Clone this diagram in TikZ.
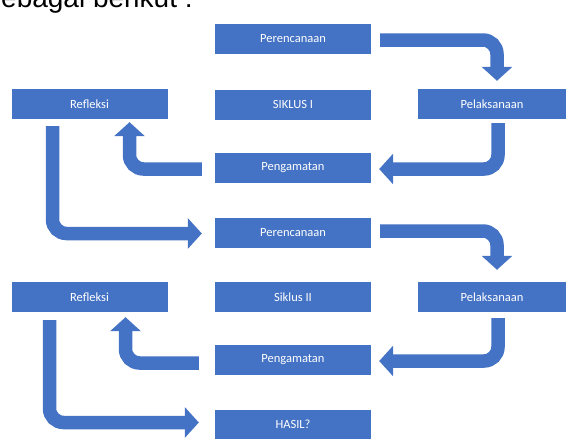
\documentclass[tikz,border=0pt]{standalone}
\usepackage{fontspec}
\setmainfont{Carlito}
\newfontfamily\headfont{Liberation Sans}
\usetikzlibrary{calc,arrows.meta}
\definecolor{obl}{HTML}{4472C4}
\tikzset{
  boxnode/.style={rectangle, fill=obl, draw=none, text=white, minimum width=156pt, minimum height=30pt, inner sep=0pt, font=\fontsize{12.5}{14}\selectfont},
  flow/.style={draw=obl, line width=13.5pt, rounded corners=14pt, -{Triangle[width=30pt,length=14pt]}}
}
\begin{document}
\begin{tikzpicture}[x=1pt,y=-1pt]
\useasboundingbox (0,0) rectangle (566,439);
\node[anchor=base west, inner sep=0pt, font=\headfont\fontsize{28}{30}\selectfont] (head) at (-13,8) {sebagai berikut :};
% nodes
\node[boxnode] (per1) at (293,39) {Perencanaan};
\node[boxnode] (sik1) at (293,104.5) {SIKLUS I};
\node[boxnode] (ref1) at (89.5,104) {Refleksi};
\node[boxnode, minimum width=148pt] (pel1) at (492,104) {Pelaksanaan};
\node[boxnode] (pen1) at (293,168) {Pengamatan};
\node[boxnode] (per2) at (293,232.5) {Perencanaan};
\node[boxnode] (sik2) at (293,297) {Siklus II};
\node[boxnode] (ref2) at (89.5,297) {Refleksi};
\node[boxnode, minimum width=148pt] (pel2) at (492,297) {Pelaksanaan};
\node[boxnode] (pen2) at (293,360) {Pengamatan};
\node[boxnode] (has) at (293,424.5) {HASIL?};
% arrows
\draw[flow] ($(per1.east)+(9,1)$) -| ($(pel1.north)+(5,-8)$);
\draw[flow] ($(pel1.south)+(6,4)$) |- ($(pen1.east)+(8,1)$);
\draw[flow] ($(pen1.west)+(-13,1)$) -| ($(ref1.south)+(40,3)$);
\draw[flow] ($(ref1.south)+(-37,7)$) |- ($(per2.west)+(-13,1)$);
\draw[flow] ($(per2.east)+(9,-1.5)$) -| ($(pel2.north)+(5,-12)$);
\draw[flow] ($(pel2.south)+(6,6)$) |- ($(pen2.east)+(8,1)$);
\draw[flow] ($(pen2.west)+(-16,3)$) -| ($(ref2.south)+(36,5)$);
\draw[flow] ($(ref2.south)+(-40,8)$) |- ($(has.west)+(-16,-2)$);
\end{tikzpicture}
\end{document}
